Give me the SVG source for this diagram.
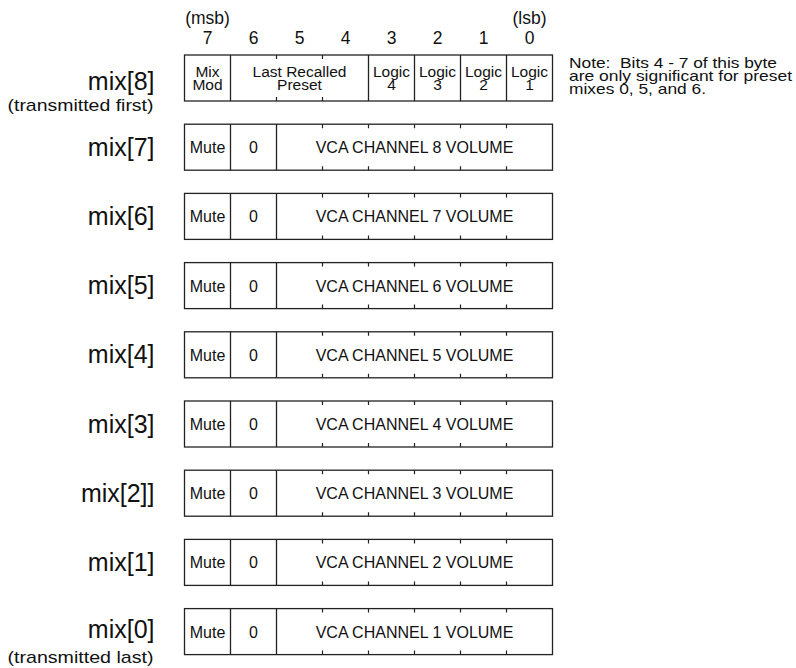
<svg xmlns="http://www.w3.org/2000/svg" width="796" height="668" viewBox="0 0 796 668">
<style>
text{font-family:"Liberation Sans",Arial,Helvetica,sans-serif;fill:#111}
.box{fill:#fff;stroke:#222;stroke-width:1.3}
.div{stroke:#222;stroke-width:1.3}
.tick{stroke:#222;stroke-width:1.2}
.lbl{font-size:25px;text-anchor:end}
.sub{font-size:17px;text-anchor:end}
.hdr{font-size:17.5px;text-anchor:middle}
.cell{font-size:16px;text-anchor:middle}
.cell2{font-size:15.5px;text-anchor:middle}
.note{font-size:15px;white-space:pre}
</style>
<defs>
<g id="vca">
<rect class="box" x="184.5" y="0" width="368" height="46"/>
<path class="div" d="M230.5 0V46M276.5 0V46"/>
<path class="tick" d="M322.5 0v4M368.5 0v4M414.5 0v4M460.5 0v4M506.5 0v4M322.5 46v-4M368.5 46v-4M414.5 46v-4M460.5 46v-4M506.5 46v-4"/>
<text class="cell" x="207.5" y="29">Mute</text>
<text class="cell" x="253.5" y="29">0</text>
</g>
</defs>
<g id="header">
<text class="hdr" x="207.5" y="24">(msb)</text>
<text class="hdr" x="529.5" y="24">(lsb)</text>
<text class="hdr" x="207.5" y="43.5">7</text>
<text class="hdr" x="253.5" y="43.5">6</text>
<text class="hdr" x="299.5" y="43.5">5</text>
<text class="hdr" x="345.5" y="43.5">4</text>
<text class="hdr" x="391.5" y="43.5">3</text>
<text class="hdr" x="437.5" y="43.5">2</text>
<text class="hdr" x="483.5" y="43.5">1</text>
<text class="hdr" x="529.5" y="43.5">0</text>
</g>
<g id="note">
<text class="note" x="569" y="68" textLength="208" lengthAdjust="spacingAndGlyphs">Note:  Bits 4 - 7 of this byte</text>
<text class="note" x="569" y="81" textLength="223" lengthAdjust="spacingAndGlyphs">are only significant for preset</text>
<text class="note" x="569" y="93.5" textLength="137" lengthAdjust="spacingAndGlyphs">mixes 0, 5, and 6.</text>
</g>
<g id="mix8">
<text class="lbl" x="154.5" y="90">mix[8]</text>
<text class="sub" x="153.5" y="111" textLength="146" lengthAdjust="spacingAndGlyphs">(transmitted first)</text>
<rect class="box" x="184.5" y="55" width="368" height="46"/>
<path class="div" d="M230.5 55V101M368.5 55V101M414.5 55V101M460.5 55V101M506.5 55V101"/>
<path class="tick" d="M276.5 55v4M322.5 55v4M276.5 101v-4M322.5 101v-4"/>
<text class="cell2" x="207.5" y="77">Mix</text>
<text class="cell2" x="207.5" y="90">Mod</text>
<text class="cell2" x="299.5" y="77">Last Recalled</text>
<text class="cell2" x="299.5" y="90">Preset</text>
<text class="cell2" x="391.5" y="77">Logic</text>
<text class="cell2" x="391.5" y="90">4</text>
<text class="cell2" x="437.5" y="77">Logic</text>
<text class="cell2" x="437.5" y="90">3</text>
<text class="cell2" x="483.5" y="77">Logic</text>
<text class="cell2" x="483.5" y="90">2</text>
<text class="cell2" x="529.5" y="77">Logic</text>
<text class="cell2" x="529.5" y="90">1</text>
</g>
<g id="mix7">
<text class="lbl" x="154.5" y="155.7">mix[7]</text>
<use href="#vca" y="124.2"/>
<text class="cell" x="414.5" y="153.2">VCA CHANNEL 8 VOLUME</text>
</g>
<g id="mix6">
<text class="lbl" x="154.5" y="224.9">mix[6]</text>
<use href="#vca" y="193.4"/>
<text class="cell" x="414.5" y="222.4">VCA CHANNEL 7 VOLUME</text>
</g>
<g id="mix5">
<text class="lbl" x="154.5" y="294.1">mix[5]</text>
<use href="#vca" y="262.6"/>
<text class="cell" x="414.5" y="291.6">VCA CHANNEL 6 VOLUME</text>
</g>
<g id="mix4">
<text class="lbl" x="154.5" y="363.3">mix[4]</text>
<use href="#vca" y="331.8"/>
<text class="cell" x="414.5" y="360.8">VCA CHANNEL 5 VOLUME</text>
</g>
<g id="mix3">
<text class="lbl" x="154.5" y="432.5">mix[3]</text>
<use href="#vca" y="401"/>
<text class="cell" x="414.5" y="430">VCA CHANNEL 4 VOLUME</text>
</g>
<g id="mix2">
<text class="lbl" x="154.5" y="501.7">mix[2]]</text>
<use href="#vca" y="470.2"/>
<text class="cell" x="414.5" y="499.2">VCA CHANNEL 3 VOLUME</text>
</g>
<g id="mix1">
<text class="lbl" x="154.5" y="570.9">mix[1]</text>
<use href="#vca" y="539.4"/>
<text class="cell" x="414.5" y="568.4">VCA CHANNEL 2 VOLUME</text>
</g>
<g id="mix0">
<text class="lbl" x="154.5" y="638">mix[0]</text>
<text class="sub" x="153.5" y="663" textLength="146" lengthAdjust="spacingAndGlyphs">(transmitted last)</text>
<use href="#vca" y="608.6"/>
<text class="cell" x="414.5" y="637.6">VCA CHANNEL 1 VOLUME</text>
</g>
<g id="connectors"/>
</svg>
